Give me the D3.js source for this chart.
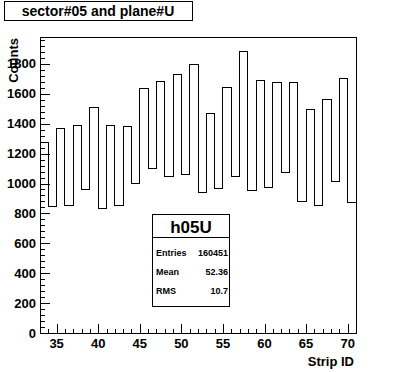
<!DOCTYPE html>
<html>
<head>
<meta charset="utf-8">
<script src="https://cdn.jsdelivr.net/npm/d3@7"></script>
<style>
  body { margin: 0; background: #fff; }
  svg { display: block; }
  text { font-family: "Liberation Sans", Arial, Helvetica, sans-serif; font-weight: bold; fill: #000; }
</style>
</head>
<body>
<div id="chart"></div>
<script>
// bin lower edges (strip id) and the counts
const stripIds = [33, 34, 35, 36, 37, 38, 39, 40, 41, 42, 43, 44, 45, 46, 47, 48, 49, 50, 51,
                  52, 53, 54, 55, 56, 57, 58, 59, 60, 61, 62, 63, 64, 65, 66, 67, 68, 69, 70];
const counts = [1277, 849, 1367, 855, 1389, 960, 1507, 833, 1387, 855, 1378, 1000, 1633, 1102, 1680, 1049, 1729, 1060, 1796,
                940, 1467, 967, 1640, 1049, 1880, 953, 1687, 973, 1673, 1073, 1673, 880, 1493, 853, 1560, 1013, 1700, 873];
const xTicks = [35, 40, 45, 50, 55, 60, 65, 70];
const yTicks = [0, 200, 400, 600, 800, 1000, 1200, 1400, 1600, 1800];

const histTitle = "sector#05 and plane#U";
const statsName = "h05U";
const statsRows = [["Entries", "160451"], ["Mean", "52.36"], ["RMS", "10.7"]];

const W = 396, H = 372;
const margin = {top: 37, right: 40, bottom: 39, left: 40},
  width = W - margin.left - margin.right,
  height = H - margin.top - margin.bottom;

const svg = d3.select("#chart").append("svg")
  .attr("width", W)
  .attr("height", H);

const x = d3.scaleLinear().domain([33, 71]).range([margin.left, margin.left + width]);
const y = d3.scaleLinear().domain([0, 1980]).range([margin.top + height, margin.top]);

const g = svg.append("g").attr("shape-rendering", "crispEdges");

// histogram outline as steps
const pts = stripIds.map((s, i) => [s, counts[i]]);
pts.push([stripIds[stripIds.length - 1] + 1, counts[counts.length - 1]]);
g.append("path")
  .attr("d", d3.line().x(d => x(d[0])).y(d => y(d[1])).curve(d3.curveStepAfter)(pts))
  .attr("fill", "none")
  .attr("stroke", "#000")
  .attr("stroke-width", 1);

// frame
g.append("rect")
  .attr("x", margin.left + 0.5).attr("y", margin.top + 0.5)
  .attr("width", width).attr("height", height)
  .attr("fill", "none").attr("stroke", "#000");

// y axis ticks (10 primary / 5 secondary)
const yMinor = d3.range(0, 1980, 40);
g.selectAll(".ymin").data(yMinor).enter().append("line")
  .attr("x1", margin.left).attr("x2", d => margin.left + (d % 200 === 0 ? 10 : 5))
  .attr("y1", d => Math.round(y(d)) + 0.5).attr("y2", d => Math.round(y(d)) + 0.5)
  .attr("stroke", "#000");
svg.selectAll(".ylab").data(yTicks).enter().append("text")
  .attr("x", margin.left - 4)
  .attr("y", d => y(d) + 4.5)
  .attr("text-anchor", "end")
  .attr("font-size", 13)
  .text(d => d);

// x axis ticks (major every 5, minor every 1)
const xMinor = d3.range(34, 71, 1);
g.selectAll(".xmin").data(xMinor).enter().append("line")
  .attr("x1", d => Math.round(x(d)) + 0.5).attr("x2", d => Math.round(x(d)) + 0.5)
  .attr("y1", margin.top + height).attr("y2", d => margin.top + height - (d % 5 === 0 ? 9 : 4.5))
  .attr("stroke", "#000");
svg.selectAll(".xlab").data(xTicks).enter().append("text")
  .attr("x", d => x(d))
  .attr("y", margin.top + height + 15)
  .attr("text-anchor", "middle")
  .attr("font-size", 13)
  .text(d => d);

// axis titles
svg.append("text")
  .attr("x", margin.left + width - 2)
  .attr("y", 366)
  .attr("text-anchor", "end")
  .attr("font-size", 13)
  .text("Strip ID");
svg.append("text")
  .attr("transform", "translate(18," + (margin.top + 1) + ") rotate(-90)")
  .attr("text-anchor", "end")
  .attr("font-size", 13)
  .text("Counts");

// title box
const tb = svg.append("g");
tb.append("rect").attr("x", 4.5).attr("y", 1.5).attr("width", 188).attr("height", 19)
  .attr("fill", "#fff").attr("stroke", "#000").attr("shape-rendering", "crispEdges");
tb.append("text").attr("x", 98).attr("y", 16).attr("text-anchor", "middle")
  .attr("font-size", 14).text(histTitle);

// stats box
const sb = svg.append("g");
sb.append("rect").attr("x", 152.5).attr("y", 214.5).attr("width", 77).attr("height", 92)
  .attr("fill", "#fff").attr("stroke", "#000").attr("shape-rendering", "crispEdges");
sb.append("line").attr("x1", 152.5).attr("x2", 229.5).attr("y1", 237.5).attr("y2", 237.5)
  .attr("stroke", "#000").attr("shape-rendering", "crispEdges");
sb.append("text").attr("x", 191).attr("y", 233).attr("text-anchor", "middle")
  .attr("font-size", 17).text(statsName);
statsRows.forEach((r, i) => {
  const ty = 256 + i * 19;
  sb.append("text").attr("x", 156).attr("y", ty).attr("font-size", 9).text(r[0]);
  sb.append("text").attr("x", 228).attr("y", ty).attr("text-anchor", "end").attr("font-size", 9).text(r[1]);
});
</script>
</body>
</html>
